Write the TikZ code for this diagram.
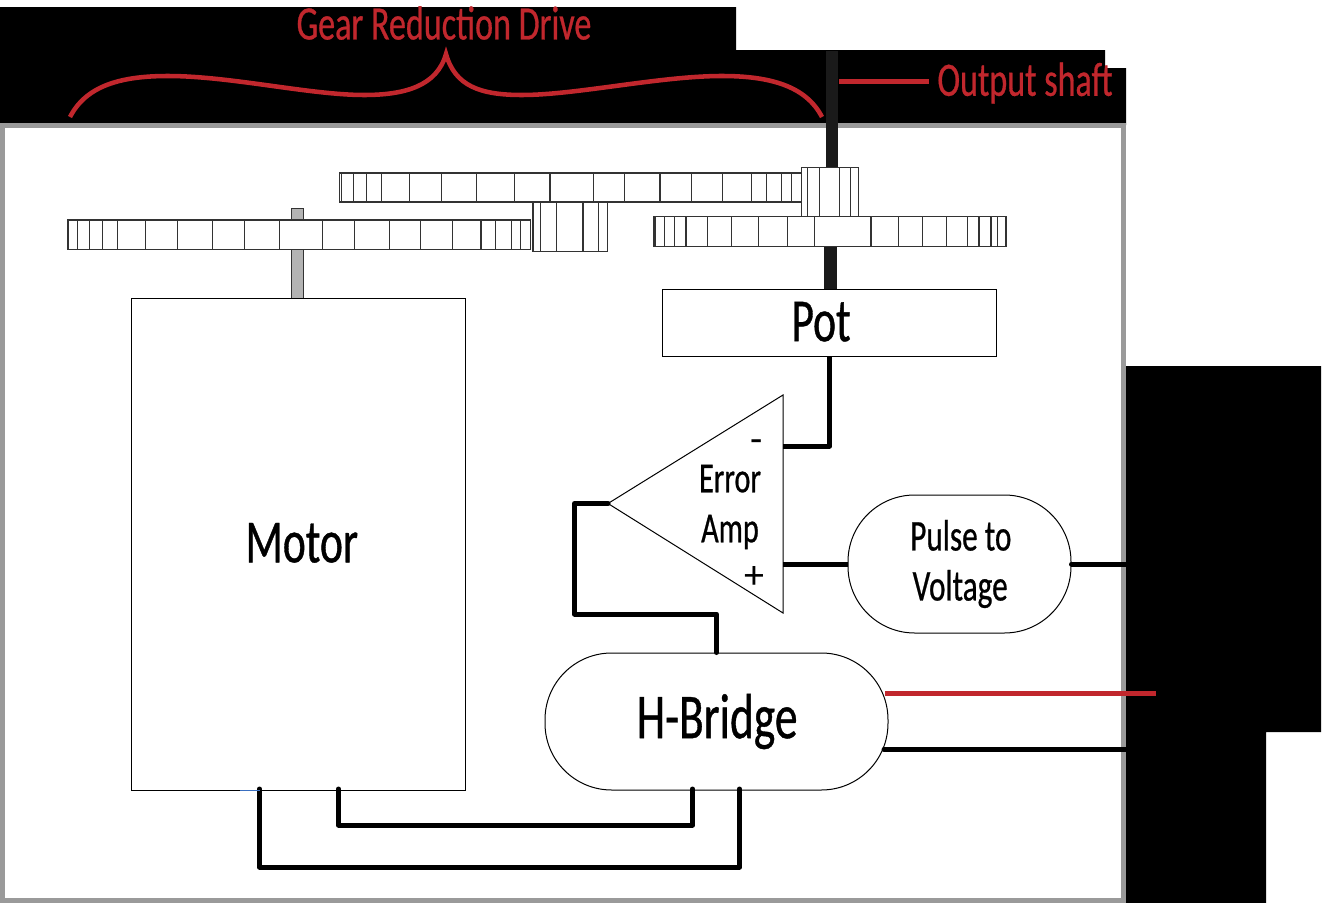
\documentclass[tikz,border=0pt]{standalone}
\usepackage{fontspec}
\setmainfont[FakeStretch=0.71,FakeBold=0.6]{Carlito}
\newfontfamily\signfont{Carlito}
\tikzset{every picture/.style={line width=0.75pt}}
\definecolor{wirered}{RGB}{193,39,45}
\definecolor{framegray}{RGB}{154,154,154}
\definecolor{shaftdark}{RGB}{26,26,26}
\definecolor{shaftgray}{RGB}{179,179,179}
\definecolor{stubblue}{RGB}{58,111,192}
\tikzset{
  blockbox/.style={draw,fill=white,inner sep=0pt,line width=0.75pt},
  roundbox/.style={blockbox,rounded corners=50pt},
  gearbox/.style={draw=black!80,fill=white,line width=0.8pt},
  wire/.style={line width=3.75pt,line cap=round,line join=round},
  flatwire/.style={wire,line cap=butt},
  redwire/.style={wire,color=wirered,line cap=butt},
  bigtext/.style={font=\fontsize{46}{50}\selectfont},
  smalltext/.style={font=\fontsize{32}{37.5}\selectfont,align=center},
  redtext/.style={font=\fontsize{36}{40}\selectfont,text=wirered},
}
\begin{document}
\begin{tikzpicture}[x=0.75pt,y=0.75pt,yscale=-1,xscale=1]
\useasboundingbox (0,0) rectangle (1322,903);
\fill [white] (0,0) rectangle (1322,903);

%Black top band
\fill [black] (0,7) -- (736,7) -- (736,50) -- (1105,50) -- (1105,68) -- (1126,68) -- (1126,125) -- (0,125) -- cycle ;
%Black right band
\fill [black] (1124,366) -- (1321,366) -- (1321,732) -- (1266,732) -- (1266,903) -- (1124,903) -- cycle ;
%Frame
\draw [draw=framegray,fill=white,line width=3.75pt] (2.5,125.5) -- (1123.5,125.5) -- (1123.5,900.5) -- (2.5,900.5) -- cycle ;

%Output shaft
\draw [draw=shaftdark,fill=shaftdark] (826.5,51.5) -- (837.5,51.5) -- (837.5,168) -- (826.5,168) -- cycle ;
\draw [draw=shaftdark,fill=shaftdark] (824,246) -- (836,246) -- (836,289) -- (824,289) -- cycle ;
%Motor shaft
\draw [draw=black!80,fill=shaftgray] (291,208.5) -- (303.5,208.5) -- (303.5,298) -- (291,298) -- cycle ;

%Top gear
\draw [gearbox] (339.5,173) -- (801.5,173) -- (801.5,202) -- (339.5,202) -- cycle ;
\draw [gearbox] (341.5,173) -- (341.5,202) (353.5,173) -- (353.5,202) (366.5,173) -- (366.5,202) (381.5,173) -- (381.5,202) (409.5,173) -- (409.5,202) (441.5,173) -- (441.5,202) (476.5,173) -- (476.5,202) (514.5,173) -- (514.5,202) (550,173) -- (550,202) (593.5,173) -- (593.5,202) (624.5,173) -- (624.5,202) (660,173) -- (660,202) (691.5,173) -- (691.5,202) (722.5,173) -- (722.5,202) (751.5,173) -- (751.5,202) (766.5,173) -- (766.5,202) (781.5,173) -- (781.5,202) (791.5,173) -- (791.5,202) ;
%Left gear
\draw [gearbox] (68,220) -- (530.5,220) -- (530.5,249.5) -- (68,249.5) -- cycle ;
\draw [gearbox] (77.5,220) -- (77.5,249.5) (89.5,220) -- (89.5,249.5) (102.5,220) -- (102.5,249.5) (117.5,220) -- (117.5,249.5) (145.5,220) -- (145.5,249.5) (177.5,220) -- (177.5,249.5) (212.5,220) -- (212.5,249.5) (244.5,220) -- (244.5,249.5) (279.5,220) -- (279.5,249.5) (322.5,220) -- (322.5,249.5) (354.5,220) -- (354.5,249.5) (389.5,220) -- (389.5,249.5) (420.5,220) -- (420.5,249.5) (452.5,220) -- (452.5,249.5) (481,220) -- (481,249.5) (495.5,220) -- (495.5,249.5) (511.5,220) -- (511.5,249.5) (520.5,220) -- (520.5,249.5) ;
%Left pinion
\draw [gearbox] (533,202) -- (607.5,202) -- (607.5,251.5) -- (533,251.5) -- cycle ;
\draw [gearbox] (540.5,202) -- (540.5,251.5) (556.5,202) -- (556.5,251.5) (583,202) -- (583,251.5) (598.5,202) -- (598.5,251.5) ;
%Right gear
\draw [gearbox] (654,216.5) -- (1006,216.5) -- (1006,246.5) -- (654,246.5) -- cycle ;
\draw [gearbox] (655.5,216.5) -- (655.5,246.5) (664.5,216.5) -- (664.5,246.5) (674.5,216.5) -- (674.5,246.5) (686,216.5) -- (686,246.5) (707.5,216.5) -- (707.5,246.5) (731.5,216.5) -- (731.5,246.5) (758.5,216.5) -- (758.5,246.5) (787.5,216.5) -- (787.5,246.5) (814.5,216.5) -- (814.5,246.5) (871,216.5) -- (871,246.5) (898.5,216.5) -- (898.5,246.5) (922.5,216.5) -- (922.5,246.5) (946.5,216.5) -- (946.5,246.5) (967.5,216.5) -- (967.5,246.5) (979,216.5) -- (979,246.5) (991,216.5) -- (991,246.5) (997.5,216.5) -- (997.5,246.5) ;
%Output pinion
\draw [gearbox] (801.5,167.5) -- (858.5,167.5) -- (858.5,216.5) -- (801.5,216.5) -- cycle ;
\draw [gearbox] (807.5,167.5) -- (807.5,216.5) (819.5,167.5) -- (819.5,216.5) (839.5,167.5) -- (839.5,216.5) (850.5,167.5) -- (850.5,216.5) ;

%Blocks
\node [blockbox,bigtext,minimum width=250.5pt,minimum height=369pt] (motor) at (298.5,544) {\raisebox{2pt}{\hspace{5pt}Motor}};
\node [blockbox,bigtext,minimum width=250.5pt,minimum height=50.25pt] (pot) at (829.5,322.5) {\raisebox{1.5pt}{Pot\hspace{12.75pt}}};
\node [roundbox,font=\fontsize{33}{37.5}\selectfont,align=center,minimum width=167.25pt,minimum height=103.5pt] (pulse) at (959.5,564) {\rule{0pt}{7pt}\hspace{2pt}Pulse to\\\hspace{1pt}Voltage};
\node [roundbox,font=\fontsize{48}{52}\selectfont,minimum width=257.25pt,minimum height=102.75pt] (hbridge) at (716.5,721.5) {\hspace{1pt}H-Bridge};

%Error amp
\coordinate (ampout) at (608,503.5);
\coordinate (ampminus) at (783,446);
\coordinate (ampplus) at (783,564);
\draw [fill=white] (ampout) -- (783,395) -- (783,613) -- cycle ;
\node [smalltext] (amptext) at (730,507) {Error\\Amp};
\node [font=\signfont\fontsize{30}{30}\selectfont,inner sep=0pt] (minussign) at (757,446) {-};
\node [font=\signfont\fontsize{30}{30}\selectfont,inner sep=0pt] (plussign) at (754,577) {+};

%Wires
\coordinate (frameone) at (1126,564);
\coordinate (frameblack) at (1126,749.5);
\coordinate (hbblack) at (884,749.5);
\coordinate (hbred) at (885,693);
\coordinate (redend) at (1156,693);
\coordinate (motora) at (259.5,789);
\coordinate (motorb) at (338.5,789);
\coordinate (hba) at (739.5,789);
\coordinate (hbb) at (692.5,789);
\draw [flatwire] (pot.south) -- (ampminus -| pot.south) -- (ampminus) ;
\draw [flatwire] (ampplus) -- (pulse.west) ;
\draw [wire] (pulse.east) -- (frameone) ;
\draw [wire] (ampout) -- (574.5,503.5) -- (574.5,614) -- (hbridge.north |- 0,614) -- (hbridge.north) ;
\draw [wire] (motora) -- (259.5,867) -- (739.5,867) -- (hba) ;
\draw [wire] (motorb) -- (338.5,825) -- (692.5,825) -- (hbb) ;
\draw [wire] (hbblack) -- (frameblack) ;
\draw [redwire] (hbred) -- (redend) ;
\draw [draw=stubblue] (240,790) -- (259.5,790) ;

%Brace
\draw [draw=wirered,line width=3.4pt,miter limit=20] (70,117) .. controls (86,86) and (120,76) .. (168,76) .. controls (230,76) and (310,95) .. (364,95) .. controls (405,95) and (437,86) .. (446,54) .. controls (455,86) and (480,95) .. (522,95) .. controls (576,95) and (660,76) .. (722,76) .. controls (770,76) and (806,86) .. (822,117) ;
%Shaft pointer
\coordinate (shaftpoint) at (839,81);
\node [redtext,anchor=west,inner sep=0pt] (shaftlabel) at (937,83) {Output shaft};
\draw [redwire] (shaftpoint) -- (929,81) ;
\node [redtext,inner sep=0pt] (gearlabel) at (444,23) {Gear Reduction Drive};
\end{tikzpicture}
\end{document}
